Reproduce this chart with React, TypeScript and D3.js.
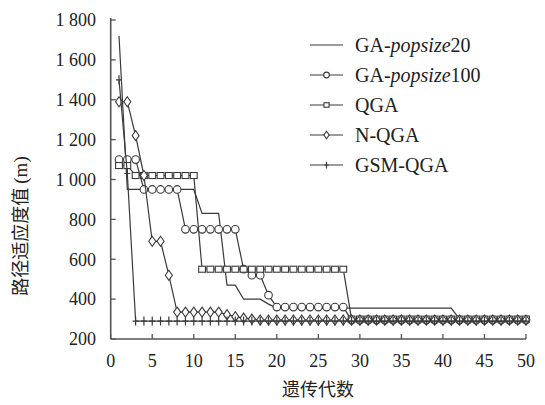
import React from "react";
import * as d3 from "d3";

// generations 1..50
const gens = [1,2,3,4,5,6,7,8,9,10,11,12,13,14,15,16,17,18,19,20,21,22,23,24,25,26,27,28,29,30,31,32,33,34,35,36,37,38,39,40,41,42,43,44,45,46,47,48,49,50];

const ga20 = [1720,950,950,950,950,950,950,950,950,950,830,830,830,470,470,400,400,400,375,355,355,355,355,355,355,355,355,355,355,355,355,355,355,355,355,355,355,355,355,355,355,300,300,300,300,300,300,300,300,300];
const ga100 = [1100,1100,1100,950,950,950,950,950,750,750,750,750,750,750,750,550,520,520,420,360,360,360,360,360,360,360,360,360,295,295,295,295,295,295,295,295,295,295,295,295,295,295,295,295,295,295,295,295,295,295];
const qga = [1070,1070,1020,1020,1020,1020,1020,1020,1020,1020,550,550,550,550,550,550,550,550,550,550,550,550,550,550,550,550,550,550,300,300,300,300,300,300,300,300,300,300,300,300,300,300,300,300,300,300,300,300,300,300];
const nqga = [1390,1390,1220,1020,690,690,520,335,335,335,335,335,335,322,312,305,300,295,295,295,295,295,295,295,295,295,295,295,295,295,295,295,295,295,295,295,295,295,295,295,295,295,295,295,295,295,295,295,295,295];
const gsm = [1500,1030,290,290,290,290,290,290,290,290,290,290,290,290,290,290,290,290,290,290,290,290,290,290,290,290,290,290,290,290,290,290,290,290,290,290,290,290,290,290,290,290,290,290,290,290,290,290,290,290];

const xTicks = [0,5,10,15,20,25,30,35,40,45,50];
const yTicks = [200,400,600,800,1000,1200,1400,1600,1800];

const seriesNames = ["GA-popsize20","GA-popsize100","QGA","N-QGA","GSM-QGA"];

const ink = "#3a3a3a";
const serif = "'Liberation Serif', 'Times New Roman', serif";
const cjk = "'Noto Sans CJK SC', sans-serif";

const fmt = d3.formatLocale({ decimal: ".", thousands: " ", grouping: [3], currency: ["", ""] }).format(",");

function Marker({ kind, x, y, s = 1 }: { kind: string; x: number; y: number; s?: number }) {
  if (kind === "circle") return <circle cx={x} cy={y} r={3.8 * s} fill="white" stroke={ink} strokeWidth={1.1} />;
  if (kind === "square") return <rect x={x - 3.4 * s} y={y - 3 * s} width={6.8 * s} height={6 * s} fill="white" stroke={ink} strokeWidth={1.1} />;
  if (kind === "diamond")
    return <path d={`M${x},${y - 5 * s}L${x + 3.5 * s},${y}L${x},${y + 5 * s}L${x - 3.5 * s},${y}Z`} fill="white" stroke={ink} strokeWidth={1.1} />;
  if (kind === "plus")
    return <path d={`M${x - 3 * s},${y}H${x + 3 * s}M${x},${y - 4.5 * s}V${y + 4.5 * s}`} stroke={ink} strokeWidth={1.2} fill="none" />;
  return null;
}

export default function App() {
  const W = 545, H = 405;
  const x = d3.scaleLinear().domain([0, 50]).range([110.7, 526]);
  const y = d3.scaleLinear().domain([200, 1800]).range([339, 20]);

  const series = [
    { name: seriesNames[0], values: ga20, kind: "none" },
    { name: seriesNames[1], values: ga100, kind: "circle" },
    { name: seriesNames[2], values: qga, kind: "square" },
    { name: seriesNames[3], values: nqga, kind: "diamond" },
    { name: seriesNames[4], values: gsm, kind: "plus" },
  ];

  const line = d3.line<number>().x((_, i) => x(gens[i])).y((v) => y(v));

  return (
    <svg width={W} height={H} style={{ position: "absolute", left: 0, top: 0, background: "white" }}>
      {/* axes */}
      <line x1={x(0)} x2={x(0)} y1={y(1800) - 2} y2={y(200)} stroke="#555" strokeWidth={1.6} />
      <line x1={x(0)} x2={x(50)} y1={y(200)} y2={y(200)} stroke="#555" strokeWidth={1.6} />
      {yTicks.map((t) => (
        <g key={"y" + t}>
          <line x1={x(0)} x2={x(0) + 5} y1={y(t)} y2={y(t)} stroke="#555" strokeWidth={1.3} />
          <text x={96} y={y(t)} dy="0.35em" textAnchor="end" fontFamily={serif} fontSize={18} fill="#222">{fmt(t)}</text>
        </g>
      ))}
      {xTicks.map((t) => (
        <g key={"x" + t}>
          <line x1={x(t)} x2={x(t)} y1={y(200)} y2={y(200) - 5} stroke="#555" strokeWidth={1.3} />
          <text x={x(t)} y={367} textAnchor="middle" fontFamily={serif} fontSize={18} fill="#222">{t}</text>
        </g>
      ))}
      <text x={318} y={396} textAnchor="middle" fontFamily={cjk} fontSize={18} fill="#222">遗传代数</text>
      <text transform={`translate(27,226) rotate(-90)`} textAnchor="middle" fontFamily={cjk} fontSize={18} fill="#222">
        路径适应度值 <tspan fontFamily={serif} fontSize={19}>(m)</tspan>
      </text>

      {/* series */}
      {series.map((s) => (
        <g key={s.name}>
          <path d={line(s.values) || ""} fill="none" stroke={ink} strokeWidth={1.2} />
          {s.kind !== "none" && s.values.map((v, i) => <Marker key={i} kind={s.kind} x={x(gens[i])} y={y(v)} />)}
        </g>
      ))}

      {/* legend */}
      {series.map((s, i) => {
        const ly = 45 + i * 30;
        return (
          <g key={"lg" + s.name}>
            <line x1={310} x2={343} y1={ly} y2={ly} stroke={ink} strokeWidth={1.2} />
            {s.kind !== "none" && <Marker kind={s.kind} x={326.5} y={ly} s={0.75} />}
            <text x={355} y={ly} dy="0.35em" fontFamily={serif} fontSize={20} fill="#222">
              {i < 2 ? (
                <>
                  GA-<tspan fontStyle="italic">popsize</tspan>{i === 0 ? "20" : "100"}
                </>
              ) : (
                s.name
              )}
            </text>
          </g>
        );
      })}
    </svg>
  );
}
